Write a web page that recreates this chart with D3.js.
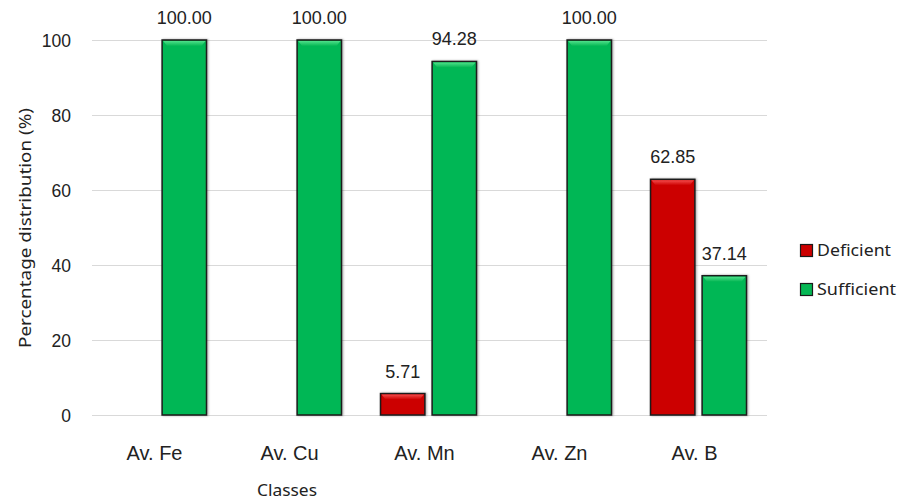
<!DOCTYPE html>
<html><head><meta charset="utf-8">
<script src="https://cdn.jsdelivr.net/npm/d3@7"></script>
<style>body{margin:0;background:#fff}svg{display:block}</style>
</head><body>
<svg id="c" width="898" height="501"></svg>
<script>
const categories = ["Av. Fe", "Av. Cu", "Av. Mn", "Av. Zn", "Av. B"];
const seriesNames = ["Deficient", "Sufficient"];
const deficient = [0, 0, 5.71, 0, 62.85];
const sufficient = [100.00, 100.00, 94.28, 100.00, 37.14];
const yTicks = [0, 20, 40, 60, 80, 100];
const colors = {"Deficient": "#cc0000", "Sufficient": "#05b754"};
const hilite = {"Deficient": "#f24a4a", "Sufficient": "#4fe08a"};

(function(){
const svg = d3.select("#c");
const pL = 91, pR = 766, pT = 40, pB = 415;
const x0 = d3.scaleBand().domain(categories).range([pL, pR]);
const bw = x0.bandwidth();
const x1 = d3.scaleBand().domain(seriesNames).range([bw/2 - 48, bw/2 + 48]).paddingInner(0.14);
const y = d3.scaleLinear().domain([0, 100]).range([pB, pT]);

const defs = svg.append("defs");
seriesNames.forEach(s => {
  const g = defs.append("linearGradient").attr("id", "g" + s).attr("x1", 0).attr("y1", 0).attr("x2", 0).attr("y2", 1);
  g.append("stop").attr("offset", 0).attr("stop-color", hilite[s]);
  g.append("stop").attr("offset", 1).attr("stop-color", colors[s]);
});
const f = defs.append("filter").attr("id", "sh").attr("x", "-20%").attr("y", "-20%").attr("width", "140%").attr("height", "140%");
f.append("feDropShadow").attr("dx", 1).attr("dy", 0).attr("stdDeviation", 1).attr("flood-color", "#000").attr("flood-opacity", 0.35);

svg.append("g").selectAll("line").data(yTicks).join("line")
  .attr("x1", pL + 1).attr("x2", pR + 1)
  .attr("y1", d => y(d) + 0.5).attr("y2", d => y(d) + 0.5)
  .attr("stroke", "#d9d9d9").attr("stroke-width", 1);

const yAxis = d3.axisLeft(y).tickValues(yTicks).tickSize(0).tickPadding(0).tickFormat(d3.format("d"));
const ya = svg.append("g").attr("transform", `translate(71,0)`).call(yAxis);
ya.select(".domain").remove();
ya.selectAll("text").attr("font-family", "Liberation Sans, Arial, sans-serif").attr("font-size", 17.5).attr("fill", "#222").attr("dy", "0.35em");

const xAxis = d3.axisBottom(x0).tickSize(0).tickPadding(0);
const xa = svg.append("g").attr("transform", `translate(-4,${pB + 38})`).call(xAxis);
xa.select(".domain").remove();
xa.selectAll("text").attr("font-family", "Liberation Sans, Arial, sans-serif").attr("font-size", 20).attr("fill", "#222").attr("dy", "0.35em");

const rows = [];
categories.forEach((c, i) => {
  rows.push({c, s: "Deficient", v: deficient[i]});
  rows.push({c, s: "Sufficient", v: sufficient[i]});
});
const bars = rows.filter(d => d.v > 0);

const bg = svg.append("g");
bars.forEach(d => {
  const bx = x0(d.c) + x1(d.s), by = y(d.v), w = x1.bandwidth(), h = y(0) - y(d.v);
  const g = bg.append("g");
  g.append("rect").attr("x", bx).attr("y", by).attr("width", w).attr("height", h)
    .attr("fill", colors[d.s]).attr("stroke", "#1a1a1a").attr("stroke-width", 1.5).attr("filter", "url(#sh)");
  g.append("path")
    .attr("d", `M${bx+1},${by+1}L${bx+w-1},${by+1}L${bx+w-5},${by+6}L${bx+5},${by+6}Z`)
    .attr("fill", `url(#g${d.s})`);
  g.append("text").attr("x", bx + w/2).attr("y", by - 16)
    .attr("text-anchor", "middle").attr("font-family", "Liberation Sans, Arial, sans-serif")
    .attr("font-size", 18).attr("fill", "#222").text(d3.format(".2f")(d.v));
});

svg.append("text").attr("transform", "translate(31,228) rotate(-90)")
  .attr("text-anchor", "middle").attr("font-family", "Noto Sans, Open Sans, sans-serif")
  .attr("font-size", 17).attr("fill", "#222")
  .attr("textLength", 240).attr("lengthAdjust", "spacingAndGlyphs")
  .text("Percentage distribution (%)");
svg.append("text").attr("x", 287).attr("y", 496)
  .attr("text-anchor", "middle").attr("font-family", "Noto Sans, Open Sans, sans-serif")
  .attr("font-size", 16.5).attr("fill", "#222")
  .attr("textLength", 60).attr("lengthAdjust", "spacingAndGlyphs")
  .text("Classes");

const lg = svg.append("g").selectAll("g").data(seriesNames).join("g")
  .attr("transform", (d, i) => `translate(800,${244 + i * 39})`);
lg.append("rect").attr("x", 0.5).attr("y", 0.5).attr("width", 12).attr("height", 12)
  .attr("fill", d => colors[d]).attr("stroke", "#1a1a1a").attr("stroke-width", 1.2);
lg.append("text").attr("x", 17).attr("y", 6.5).attr("dy", "0.35em")
  .attr("font-family", "Noto Sans, Open Sans, sans-serif").attr("font-size", 17).attr("fill", "#222")
  .attr("textLength", d => d === "Deficient" ? 74 : 79).attr("lengthAdjust", "spacingAndGlyphs")
  .text(d => d);
})();
</script>
</body></html>
